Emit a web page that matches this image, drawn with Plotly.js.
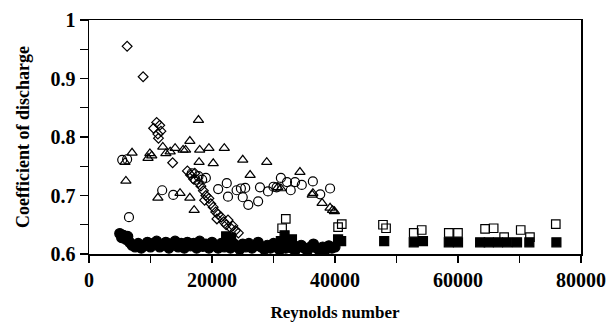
<!DOCTYPE html>
<html>
<head>
<meta charset="utf-8">
<script src="https://cdn.plot.ly/plotly-3.0.1.min.js"></script>
<style>html,body{margin:0;padding:0;background:#fff;}#chart{width:612px;height:329px;}</style>
</head>
<body>
<div id="chart"></div>
<script>
// Open diamonds
const diamondRe = [6200, 8800, 10500, 11000, 11500, 11200, 11700, 11300, 13600,
  16000, 16500, 17000, 17200, 17800, 18200, 18600, 19000, 18800, 19500, 19800, 20200, 20600, 21000, 20800, 21500, 21900, 22300, 22600, 23000, 23400, 23800, 24300];
const diamondCd = [0.955, 0.903, 0.815, 0.825, 0.820, 0.805, 0.810, 0.798, 0.756,
  0.742, 0.735, 0.728, 0.738, 0.722, 0.716, 0.708, 0.700, 0.692, 0.695, 0.686, 0.680, 0.672, 0.668, 0.660, 0.663, 0.655, 0.650, 0.658, 0.645, 0.648, 0.640, 0.636];

// Open triangles
const triRe = [5850, 6000, 7000, 9600, 9900, 10200, 11200, 12000, 12500, 13200, 14000, 14800, 15300, 15700, 16400, 16400, 17100, 17800, 17900, 18000, 19500, 20200, 22000, 25000, 26200, 28900, 30700, 31200, 34300, 36300, 36400, 37900, 39200, 39600, 39900];
const triCd = [0.757, 0.725, 0.773, 0.764, 0.772, 0.768, 0.696, 0.783, 0.772, 0.775, 0.781, 0.704, 0.778, 0.778, 0.793, 0.696, 0.675, 0.829, 0.757, 0.778, 0.781, 0.755, 0.781, 0.761, 0.735, 0.757, 0.714, 0.712, 0.740, 0.701, 0.704, 0.687, 0.679, 0.675, 0.673];

// Open circles
const circRe = [5400, 6200, 6500, 11900, 13700, 16700, 17300, 17800, 18400, 19000, 21000, 22400, 22600, 24000, 24700, 25000, 25400, 25900, 27500, 27800, 29100, 30000, 30500, 31200, 32200, 32800, 33500, 34600, 36400, 37600, 39200];
const circCd = [0.761, 0.762, 0.663, 0.709, 0.701, 0.738, 0.727, 0.733, 0.727, 0.730, 0.711, 0.721, 0.698, 0.709, 0.712, 0.697, 0.713, 0.684, 0.690, 0.714, 0.707, 0.715, 0.714, 0.730, 0.723, 0.709, 0.723, 0.718, 0.724, 0.702, 0.712];

// Filled circles
const fcircRe = [5000, 5300, 5600, 6000, 6300, 6600, 7000, 7500, 8000, 8500, 9000, 9500, 10000, 10500, 11000, 11500, 12000, 12500, 13000, 13500, 14000, 14500, 15000, 15500, 16000, 16500, 17000, 17500, 18000, 18500, 19000, 19500, 20000, 20500, 21000, 21500, 22000, 22500, 23000, 23500, 24000, 24500, 25000, 25500, 26000, 26500, 27000, 27500, 28000, 28500, 29000, 29500, 30000, 30500, 31000, 31500, 32000, 32500, 33000, 33500, 34000, 34500, 35000, 35500, 36000, 36500, 37000, 37500, 38000, 38500, 39000, 39500, 40000];
const fcircCd = [0.635, 0.628, 0.632, 0.625, 0.630, 0.620, 0.615, 0.612, 0.618, 0.610, 0.614, 0.620, 0.612, 0.618, 0.622, 0.612, 0.616, 0.620, 0.610, 0.617, 0.622, 0.612, 0.618, 0.610, 0.620, 0.614, 0.618, 0.610, 0.622, 0.613, 0.617, 0.610, 0.620, 0.614, 0.610, 0.618, 0.612, 0.616, 0.610, 0.618, 0.613, 0.608, 0.617, 0.612, 0.618, 0.610, 0.614, 0.620, 0.612, 0.608, 0.615, 0.610, 0.618, 0.612, 0.607, 0.614, 0.610, 0.616, 0.610, 0.606, 0.612, 0.615, 0.610, 0.606, 0.612, 0.617, 0.610, 0.606, 0.612, 0.608, 0.614, 0.610, 0.612];

// Open squares
const osqRe = [31400, 32000, 40500, 41100, 47800, 48300, 52800, 54100, 58500, 60000, 64400, 65800, 67500, 70200, 71700, 75900];
const osqCd = [0.644, 0.660, 0.646, 0.651, 0.650, 0.644, 0.636, 0.641, 0.636, 0.636, 0.643, 0.644, 0.629, 0.641, 0.629, 0.651];

// Filled squares
const fsqRe = [22300, 23100, 31200, 31800, 32500, 33000, 40500, 41000, 48000, 52800, 54300, 58500, 60000, 63600, 65000, 66500, 68000, 69600, 71600, 76000];
const fsqCd = [0.630, 0.628, 0.622, 0.632, 0.620, 0.625, 0.625, 0.622, 0.622, 0.620, 0.622, 0.620, 0.620, 0.620, 0.620, 0.620, 0.620, 0.620, 0.620, 0.620];

const xTicks = [0, 20000, 40000, 60000, 80000];
const yTicks = [0.6, 0.7, 0.8, 0.9, 1];
const yTickText = ['0.6', '0.7', '0.8', '0.9', '1'];

const lw = 1.2;
function tr(x, y, symbol, size) {
  return {
    x: x, y: y, type: 'scatter', mode: 'markers', showlegend: false, hoverinfo: 'skip',
    marker: {symbol: symbol, size: size, color: '#000', line: {color: '#000', width: lw}}
  };
}

const data = [
  tr(fcircRe, fcircCd, 'circle', 10),
  tr(fsqRe, fsqCd, 'square', 9),
  tr(triRe, triCd, 'triangle-up-open', 9),
  tr(circRe, circCd, 'circle-open', 9),
  tr(diamondRe, diamondCd, 'diamond-open', 7.5),
  tr(osqRe, osqCd, 'square-open', 8.5)
];

const fam = '"Liberation Serif", "Times New Roman", serif';
const layout = {
  width: 612, height: 329,
  margin: {l: 89, r: 31, t: 20, b: 75},
  paper_bgcolor: '#fff', plot_bgcolor: '#fff',
  font: {family: fam, color: '#000'},
  xaxis: {
    range: [0, 80000], tickvals: xTicks, ticktext: xTicks.map(v => '<b>' + v + '</b>'),
    showgrid: false, zeroline: false, showline: true, linecolor: '#000', linewidth: 1.5, mirror: true,
    ticks: 'outside', ticklen: 7, tickwidth: 1.2, tickcolor: '#000',
    minor: {tickvals: [10000, 30000, 50000, 70000], ticks: 'outside', ticklen: 7, tickwidth: 1.2, tickcolor: '#000', showgrid: false},
    tickfont: {family: fam, size: 20, color: '#000'},
    title: {text: '<b>Reynolds number</b>', font: {family: fam, size: 17, color: '#000'}, standoff: 16}
  },
  yaxis: {
    range: [0.6, 1], tickvals: yTicks, ticktext: yTickText.map(t => '<b>' + t + '</b>'),
    showgrid: false, zeroline: false, showline: true, linecolor: '#000', linewidth: 1.5, mirror: true,
    ticks: 'outside', ticklen: 8, tickwidth: 1.2, tickcolor: '#000',
    minor: {tickvals: [0.65, 0.75, 0.85, 0.95], ticks: 'outside', ticklen: 8, tickwidth: 1.2, tickcolor: '#000', showgrid: false},
    tickfont: {family: fam, size: 20, color: '#000'},
    title: {text: '<b>Coefficient of discharge</b>', font: {family: fam, size: 18, color: '#000'}, standoff: 16}
  }
};

Plotly.newPlot('chart', data, layout, {displayModeBar: false, staticPlot: true});
</script>
</body>
</html>
